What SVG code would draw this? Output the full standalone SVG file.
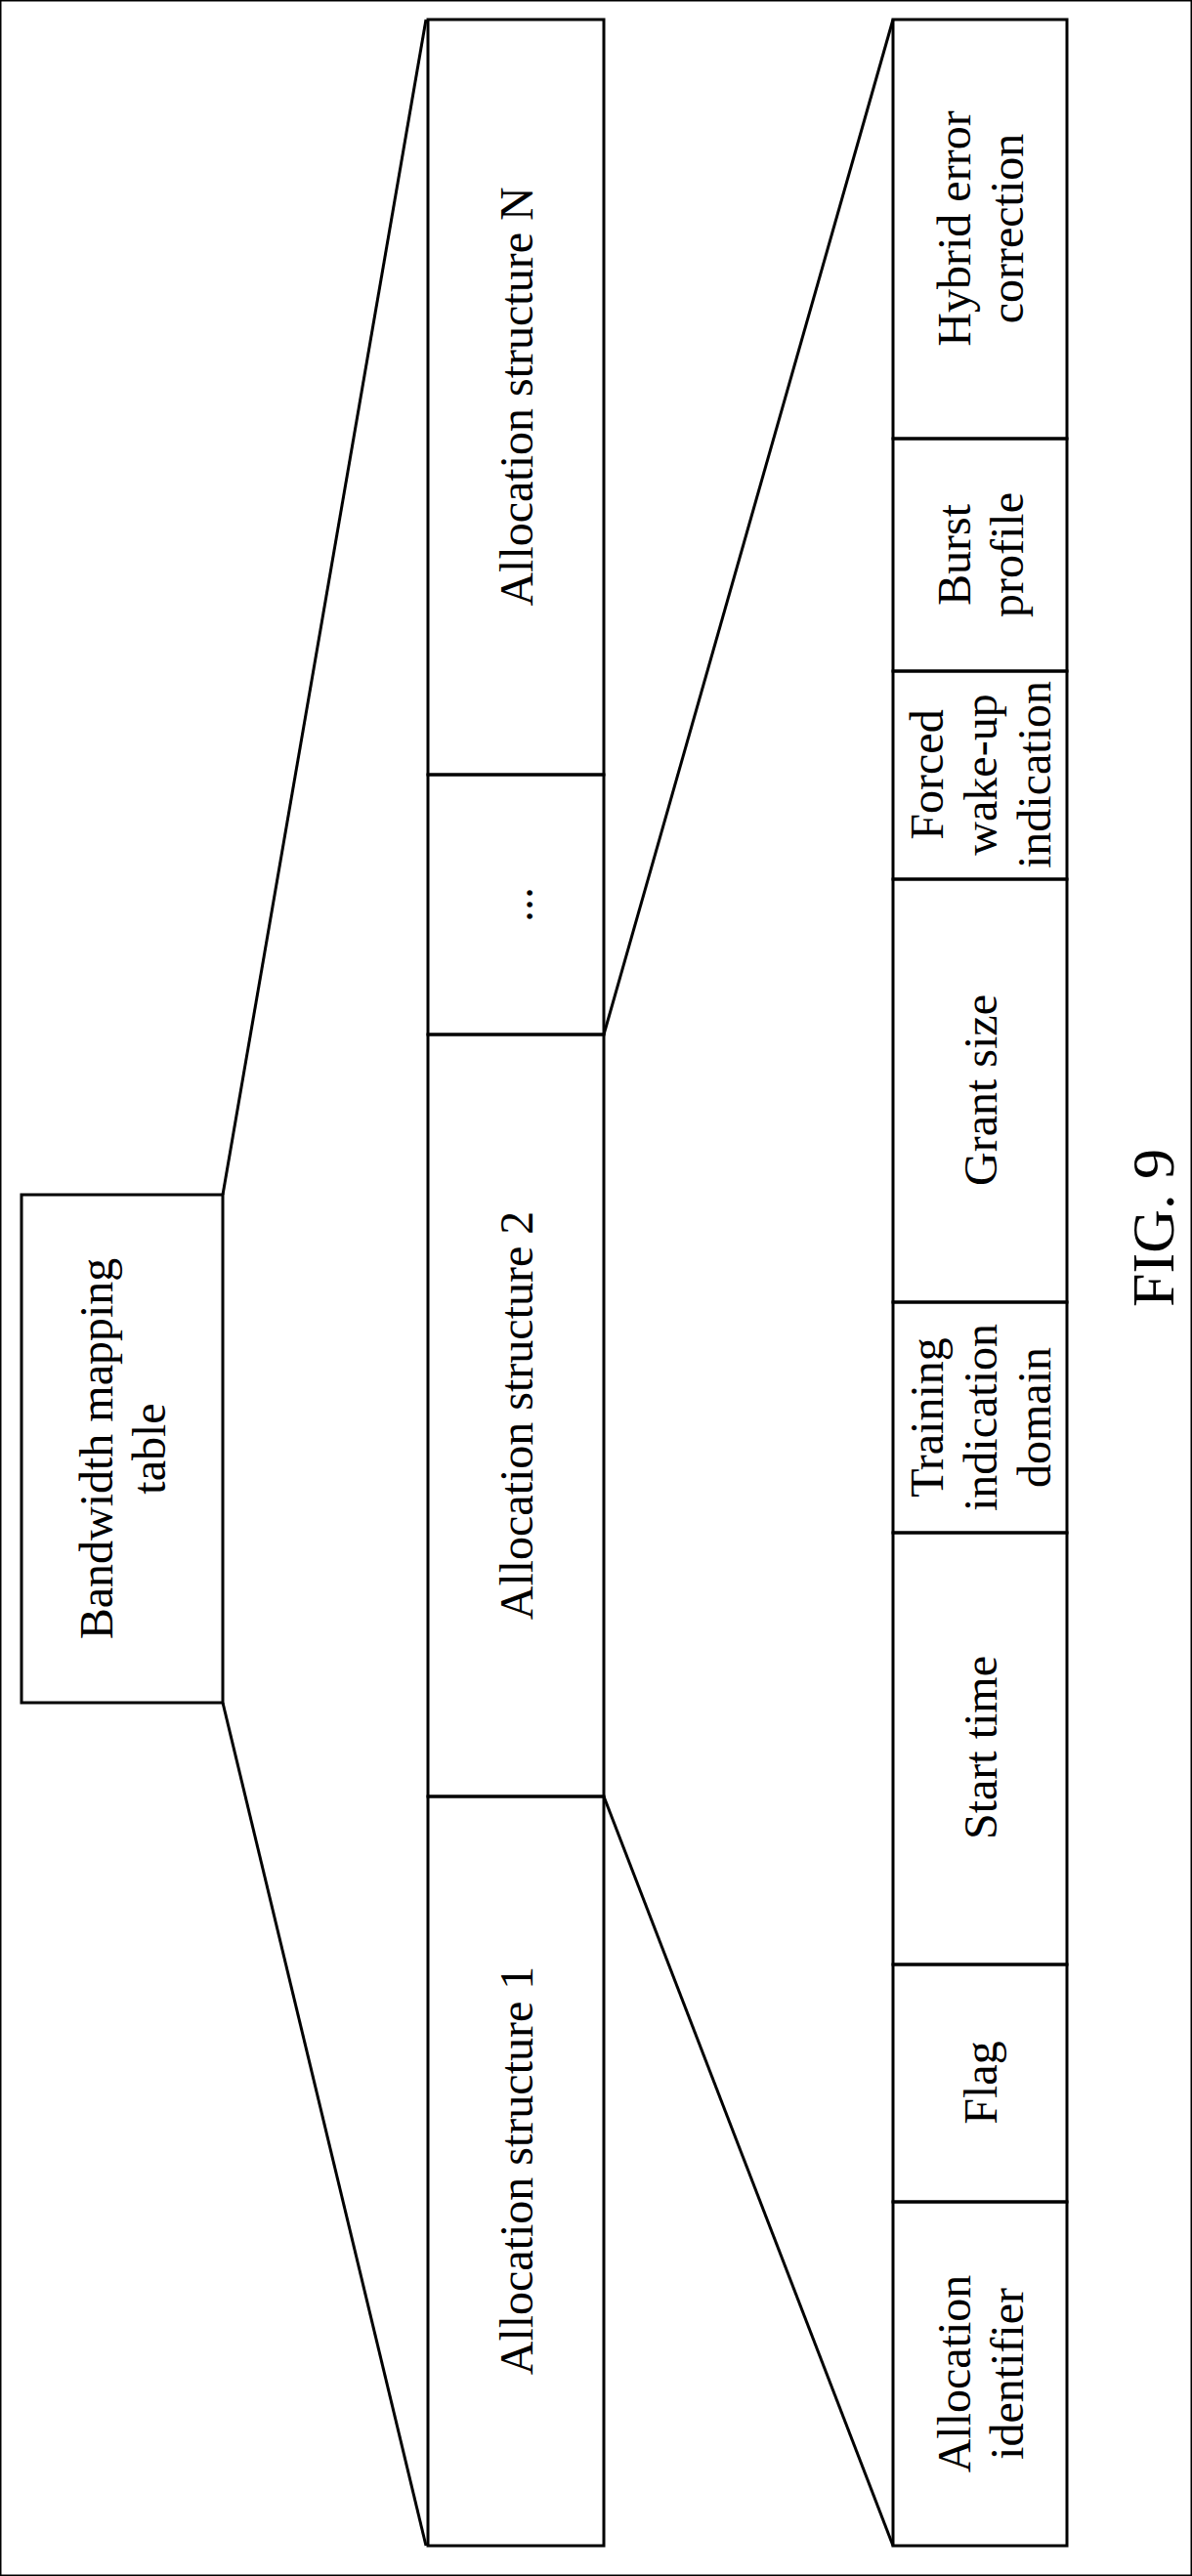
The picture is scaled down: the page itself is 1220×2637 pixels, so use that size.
<svg xmlns="http://www.w3.org/2000/svg" width="1220" height="2637" viewBox="0 0 1220 2637">
<style>
rect,line{fill:none;stroke:#000;stroke-width:3}
text{font-family:"Liberation Serif",serif;font-size:48px;text-anchor:middle;dominant-baseline:central;fill:#000}
</style>
<rect width="1220" height="2637" fill="#fff" stroke="none"/>
<g id="connectors">
<line x1="228" y1="1223" x2="436" y2="20"/>
<line x1="228" y1="1743" x2="436" y2="2606"/>
<line x1="618" y1="1059" x2="914" y2="20"/>
<line x1="618" y1="1839" x2="914" y2="2606"/>
</g>
<g id="bwmap"><rect x="22" y="1223" width="206" height="520"/>
<text transform="translate(125,1483) rotate(-90)"><tspan x="0" y="-27">Bandwidth mapping</tspan><tspan x="0" y="27">table</tspan></text></g>
<g id="allocN"><rect x="438" y="20" width="180" height="773"/><text transform="translate(528,406) rotate(-90)">Allocation structure N</text></g>
<g id="allocDots"><rect x="438" y="793" width="180" height="266"/><text transform="translate(528,926) rotate(-90)">...</text></g>
<g id="alloc2"><rect x="438" y="1059" width="180" height="780"/><text transform="translate(528,1449) rotate(-90)">Allocation structure 2</text></g>
<g id="alloc1"><rect x="438" y="1839" width="180" height="767"/><text transform="translate(528,2222) rotate(-90)">Allocation structure 1</text></g>
<g id="hec"><rect x="914" y="20" width="178" height="429"/><text transform="translate(1003,234) rotate(-90)"><tspan x="0" y="-27">Hybrid error</tspan><tspan x="0" y="27">correction</tspan></text></g>
<g id="burst"><rect x="914" y="449" width="178" height="238"/><text transform="translate(1003,568) rotate(-90)"><tspan x="0" y="-27">Burst</tspan><tspan x="0" y="27">profile</tspan></text></g>
<g id="forced"><rect x="914" y="687" width="178" height="213"/><text transform="translate(1003,793) rotate(-90)"><tspan x="0" y="-55">Forced</tspan><tspan x="0" y="0">wake-up</tspan><tspan x="0" y="55">indication</tspan></text></g>
<g id="grant"><rect x="914" y="900" width="178" height="433"/><text transform="translate(1003,1116) rotate(-90)">Grant size</text></g>
<g id="training"><rect x="914" y="1333" width="178" height="236"/><text transform="translate(1003,1451) rotate(-90)"><tspan x="0" y="-55">Training</tspan><tspan x="0" y="0">indication</tspan><tspan x="0" y="55">domain</tspan></text></g>
<g id="start"><rect x="914" y="1569" width="178" height="442"/><text transform="translate(1003,1789) rotate(-90)">Start time</text></g>
<g id="flag"><rect x="914" y="2011" width="178" height="243"/><text transform="translate(1003,2132) rotate(-90)">Flag</text></g>
<g id="allocid"><rect x="914" y="2254" width="178" height="352"/><text transform="translate(1003,2430) rotate(-90)"><tspan x="0" y="-27">Allocation</tspan><tspan x="0" y="27">identifier</tspan></text></g>
<g id="fig"><text transform="translate(1180,1257) rotate(-90)" style="font-size:62px">FIG. 9</text></g>
</svg>
